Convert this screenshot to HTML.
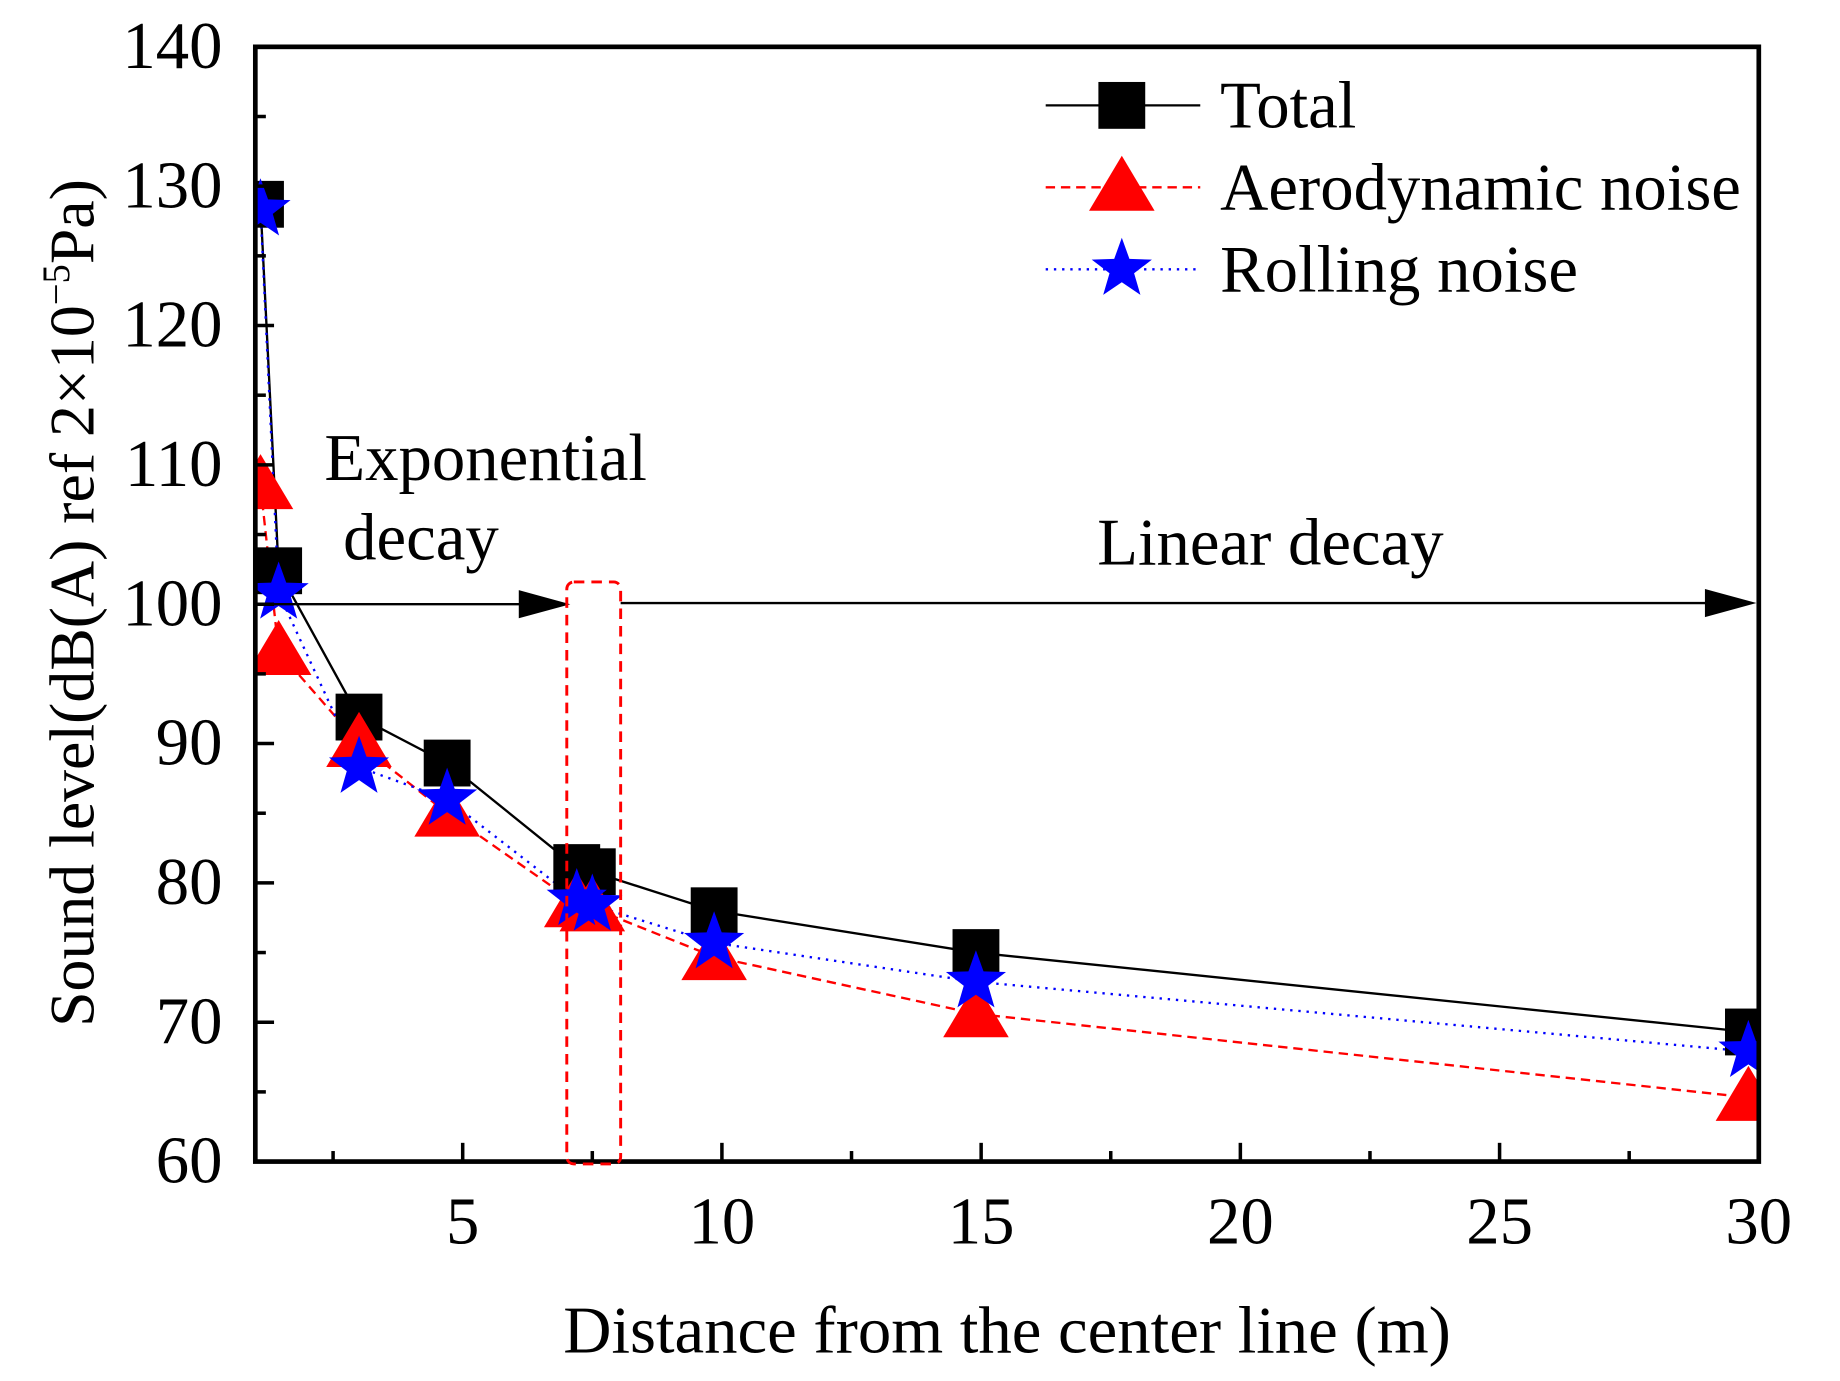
<!DOCTYPE html>
<html><head><meta charset="utf-8"><style>
html,body{margin:0;padding:0;background:#fff}
svg{display:block}
text{font-family:"Liberation Serif","DejaVu Serif",serif;fill:#000}
</style></head><body>
<svg id="chart" width="1840" height="1381" viewBox="0 0 1571.3 1179.4" xmlns="http://www.w3.org/2000/svg">
<defs><clipPath id="clip"><rect x="218" y="40" width="1284" height="952"/></clipPath></defs>
<g id="marks" clip-path="url(#clip)"></g>
<g id="axes"></g>
</svg>
<script>
const xs = [1.1, 1.45, 3, 4.7, 7.2, 7.5, 9.85, 14.9, 29.8];
const total = [128.7, 102.4, 91.9, 88.6, 81.1, 80.8, 78.0, 75.0, 69.3];
const aero = [108.5, 96.6, 90.0, 85.0, 78.5, 78.2, 74.7, 70.6, 64.6];
const rolling = [128.3, 100.8, 88.3, 86.0, 78.8, 78.4, 75.7, 72.9, 67.9];
const xTicks = [5, 10, 15, 20, 25, 30];
const yTicks = [60, 70, 80, 90, 100, 110, 120, 130, 140];
const X0 = 1, X1 = 30, Y0 = 60, Y1 = 140;
const L = 218, R = 1502, T = 40, B = 992;
const sx = v => L + (v - X0) / (X1 - X0) * (R - L);
const sy = v => B - (v - Y0) / (Y1 - Y0) * (B - T);
const NS = 'http://www.w3.org/2000/svg';
function mk(tag, attrs, parent) { const e = document.createElementNS(NS, tag); for (const k in attrs) e.setAttribute(k, attrs[k]); parent.appendChild(e); return e; }
const svg = document.getElementById('chart');
const marks = document.getElementById('marks');
const axes = document.getElementById('axes');

function square(x, y, s, p) { return mk('rect', {x: x - 20, y: y - 20, width: 40, height: 40, fill: '#000'}, p); }
function tri(x, y, p) { return mk('polygon', {points: `${x},${y - 27} ${x - 28},${y + 20} ${x + 28},${y + 20}`, fill: '#f00'}, p); }
function star(x, y, p) {
  let pts = [];
  for (let i = 0; i < 10; i++) { const r = i % 2 ? 11 : 27; const a = -Math.PI / 2 + i * Math.PI / 5; pts.push((x + r * Math.cos(a)).toFixed(1) + ',' + (y + r * Math.sin(a)).toFixed(1)); }
  return mk('polygon', {points: pts.join(' '), fill: '#00f'}, p);
}
function line(vals, color, dash, name) {
  const el = mk('polyline', {points: xs.map((x, i) => sx(x) + ',' + sy(vals[i])).join(' '), fill: 'none', stroke: color, 'stroke-width': 2, 'stroke-dasharray': dash}, marks);
  
  
}
line(total, '#000', 'none', 'total-line');
line(aero, '#f00', '8,5', 'aero-line');
line(rolling, '#00f', '2,5', 'rolling-line');
xs.forEach((x, i) => {
  const e = square(sx(x), sy(total[i]), 0, marks);
  
  
});
xs.forEach((x, i) => {
  const e = tri(sx(x), sy(aero[i]), marks);
  
  
});
xs.forEach((x, i) => {
  const e = star(sx(x), sy(rolling[i]), marks);
  
  
});

// annotations
const ann = mk('g', {}, svg);


const yA = sy(100);
mk('line', {x1: L, y1: yA, x2: 450, y2: yA, stroke: '#000', 'stroke-width': 2}, ann);
mk('polygon', {points: `${487},${yA} ${443},${yA - 12} ${443},${yA + 12}`, fill: '#000'}, ann);
mk('line', {x1: 530, y1: yA - 1, x2: 1465, y2: yA - 1, stroke: '#000', 'stroke-width': 2}, ann);
mk('polygon', {points: `${1500},${yA - 1} ${1456},${yA - 13} ${1456},${yA + 11}`, fill: '#000'}, ann);
mk('rect', {x: 484, y: 497, width: 46, height: 497, rx: 6, fill: 'none', stroke: '#f00', 'stroke-width': 2.5, 'stroke-dasharray': '9,6'}, ann);
const t1 = mk('text', {x: 277, y: 410, 'font-size': 57}, ann); t1.textContent = 'Exponential';
const t2 = mk('text', {x: 293, y: 478, 'font-size': 57}, ann); t2.textContent = 'decay';
const t3 = mk('text', {x: 937, y: 482, 'font-size': 57}, ann); t3.textContent = 'Linear decay';

// axes
const frame = mk('rect', {x: L, y: T, width: R - L, height: B - T, fill: 'none', stroke: '#000', 'stroke-width': 4}, axes);


yTicks.forEach(v => {
  mk('line', {x1: L, y1: sy(v), x2: L + 16, y2: sy(v), stroke: '#000', 'stroke-width': 3}, axes);
  if (v < 140) mk('line', {x1: L, y1: sy(v + 5), x2: L + 9, y2: sy(v + 5), stroke: '#000', 'stroke-width': 3}, axes);
  const t = mk('text', {x: 190, y: sy(v) + 18, 'font-size': 57, 'text-anchor': 'end'}, axes);
  
  
  t.textContent = v;
});
xTicks.forEach(v => {
  mk('line', {x1: sx(v), y1: B, x2: sx(v), y2: B - 16, stroke: '#000', 'stroke-width': 3}, axes);
  mk('line', {x1: sx(v - 2.5), y1: B, x2: sx(v - 2.5), y2: B - 9, stroke: '#000', 'stroke-width': 3}, axes);
  const t = mk('text', {x: sx(v), y: 1062, 'font-size': 57, 'text-anchor': 'middle'}, axes);
  
  
  t.textContent = v;
});
const xt = mk('text', {x: 860, y: 1155, 'font-size': 57, 'text-anchor': 'middle'}, axes);


xt.textContent = 'Distance from the center line (m)';
const yt = mk('text', {x: 0, y: 0, 'font-size': 54.5, 'text-anchor': 'middle', transform: 'translate(80,515) rotate(-90)'}, axes);


yt.innerHTML = 'Sound level(dB(A) ref 2×10<tspan font-size="33" dy="-21">−5</tspan><tspan dy="21">Pa)</tspan>';

// legend
const lg = mk('g', {}, svg);


const names = ['Total', 'Aerodynamic noise', 'Rolling noise'];
const cols = ['#000', '#f00', '#00f'];
const dashes = ['none', '8,5', '2,5'];
names.forEach((n, i) => {
  const y = 90 + i * 70;
  const g = mk('g', {}, lg);
  
  
  mk('line', {x1: 893, y1: y, x2: 1025, y2: y, stroke: cols[i], 'stroke-width': 2, 'stroke-dasharray': dashes[i]}, g);
  if (i === 0) square(958, y, 0, g); else if (i === 1) tri(958, y, g); else star(958, y, g);
  const t = mk('text', {x: 1042, y: y + 19, 'font-size': 57}, g); t.textContent = n;
});
</script>
</body></html>
